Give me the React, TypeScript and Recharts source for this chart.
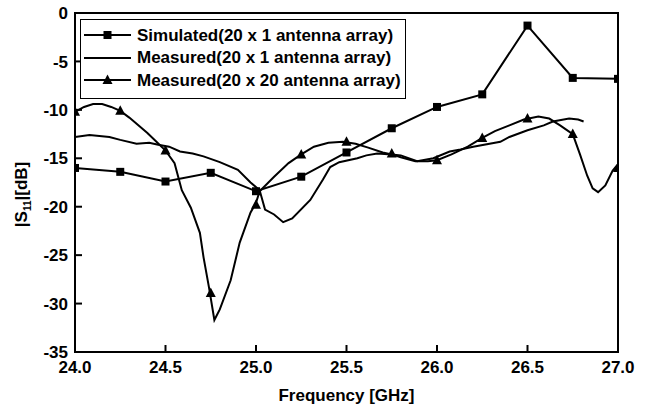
import React from "react"
import {
  LineChart, Line, XAxis, YAxis, Legend, ReferenceArea,
} from "recharts"

// tick labels
const xTicks = [24.0, 24.5, 25.0, 25.5, 26.0, 26.5, 27.0]
const yTicks = [-35, -30, -25, -20, -15, -10, -5, 0]

// simulated 20 x 1 (squares, every 0.25 GHz)
const simFreq = [24.0, 24.25, 24.5, 24.75, 25.0, 25.25, 25.5, 25.75, 26.0, 26.25, 26.5, 26.75, 27.0]
const simS11 = [-16.0, -16.4, -17.4, -16.5, -18.4, -16.9, -14.4, -11.9, -9.7, -8.4, -1.3, -6.7, -6.8]

// measured 20 x 1 (plain line)
const meas1Freq = [
  24.0, 24.08, 24.19, 24.25, 24.34, 24.41, 24.46, 24.52, 24.58, 24.65, 24.71, 24.8, 24.9, 24.97,
  25.02, 25.05, 25.1, 25.15, 25.2, 25.3, 25.37, 25.41, 25.46, 25.56, 25.61, 25.67, 25.75, 25.8,
  25.89, 25.98, 26.07, 26.13, 26.2, 26.35, 26.4, 26.5, 26.59, 26.64, 26.73, 26.78, 26.81,
]
const meas1S11 = [
  -12.8, -12.6, -12.8, -13.1, -13.5, -13.4, -13.6, -13.8, -14.3, -14.5, -14.8, -15.4, -16.2, -17.5,
  -18.3, -20.3, -20.8, -21.6, -21.2, -19.3, -17.2, -15.9, -15.4, -15.0, -14.7, -14.5, -14.6, -14.7,
  -15.3, -15.0, -14.3, -14.1, -13.8, -13.3, -12.8, -12.1, -11.6, -11.2, -10.9, -11.0, -11.2,
]

// measured 20 x 20 (line) and its triangle markers
const meas20Freq = [
  24.0, 24.05, 24.1, 24.15, 24.2, 24.25, 24.3, 24.35, 24.4, 24.45, 24.5, 24.55, 24.59, 24.64,
  24.69, 24.71, 24.74, 24.77, 24.8, 24.86, 24.91, 24.97, 25.0, 25.02, 25.1, 25.18, 25.25, 25.32,
  25.4, 25.48, 25.55, 25.62, 25.7, 25.75, 25.8, 25.88, 25.95, 26.0, 26.08, 26.17, 26.25, 26.32,
  26.4, 26.48, 26.56, 26.62, 26.68, 26.75, 26.79, 26.83, 26.86, 26.89, 26.93, 26.97, 27.0,
]
const meas20S11 = [
  -10.2, -9.7, -9.4, -9.4, -9.7, -10.1, -10.8, -11.6, -12.4, -13.3, -14.2, -15.5, -18.3, -20.1,
  -22.7, -25.2, -28.3, -31.7, -30.6, -27.6, -23.7, -20.6, -19.6, -18.4, -16.9, -15.5, -14.6, -13.8,
  -13.4, -13.3, -13.5, -13.9, -14.4, -14.6, -14.9, -15.3, -15.3, -15.2, -14.6, -13.8, -12.9, -12.2,
  -11.6, -11.0, -10.7, -10.9, -11.6, -12.5, -14.6, -16.8, -18.1, -18.5, -17.8, -16.3, -15.6,
]
const mark20Freq = [24.0, 24.25, 24.5, 24.75, 25.0, 25.25, 25.5, 25.75, 26.0, 26.25, 26.5, 26.75, 27.0]
const mark20S11 = [-10.2, -10.1, -14.2, -28.9, -19.8, -14.6, -13.3, -14.5, -15.2, -12.9, -10.9, -12.5, -16.0]

const legendItems = [
  { label: "Simulated(20 x 1 antenna array)", marker: "square" },
  { label: "Measured(20 x 1 antenna array)", marker: "none" },
  { label: "Measured(20 x 20 antenna array)", marker: "triangle" },
]

const toRows = (fs: number[], vs: number[]) => fs.map((f, i) => ({ f, v: vs[i] }))
const simData = toRows(simFreq, simS11)
const meas1Data = toRows(meas1Freq, meas1S11)
const meas20Data = toRows(meas20Freq, meas20S11)
const mark20Data = toRows(mark20Freq, mark20S11)

const FONT = "'Liberation Sans', Arial, sans-serif"

const Square = (p: any) => {
  if (p.cx == null || p.cy == null) return <g key={p.key} />
  return <rect key={p.key} x={p.cx - 4} y={p.cy - 4} width={8} height={8} fill="#000" />
}

const Triangle = (p: any) => {
  if (p.cx == null || p.cy == null) return <g key={p.key} />
  const { cx, cy } = p
  return <path key={p.key} d={`M${cx},${cy - 5.5}L${cx + 5},${cy + 4}L${cx - 5},${cy + 4}Z`} fill="#000" />
}

const XTick = (p: any) => {
  const { x, y, payload } = p
  const inner = payload.value > 24 && payload.value < 27
  return (
    <g>
      {inner && <line x1={x} x2={x} y1={y} y2={y - 7} stroke="#000" strokeWidth={2} />}
      <text x={x} y={y + 21} textAnchor="middle" fontSize={17} fontWeight="bold" fontFamily={FONT} fill="#000">
        {payload.value.toFixed(1)}
      </text>
    </g>
  )
}

const YTick = (p: any) => {
  const { x, y, payload } = p
  const inner = payload.value > -35 && payload.value < 0
  return (
    <g>
      {inner && <line x1={x} x2={x + 7} y1={y} y2={y} stroke="#000" strokeWidth={2} />}
      <text x={x - 7} y={y} dy="0.36em" textAnchor="end" fontSize={17} fontWeight="bold" fontFamily={FONT} fill="#000">
        {payload.value}
      </text>
    </g>
  )
}

const LegendBox = () => (
  <div style={{
    width: 326, height: 80, boxSizing: "border-box", border: "1.5px solid #000",
    background: "#fff", paddingTop: 4, paddingLeft: 3,
  }}>
    {legendItems.map((it) => (
      <div key={it.label} style={{ display: "flex", alignItems: "center", height: 22.5 }}>
        <svg width={47} height={14} style={{ flex: "none" }}>
          <line x1={0} x2={47} y1={7} y2={7} stroke="#000" strokeWidth={2} />
          {it.marker === "square" && <rect x={19.5} y={3} width={8} height={8} fill="#000" />}
          {it.marker === "triangle" && <path d="M23.5,1.5L28.5,11L18.5,11Z" fill="#000" />}
        </svg>
        <span style={{
          marginLeft: 6, fontFamily: FONT, fontWeight: "bold", fontSize: 17,
          color: "#000", whiteSpace: "nowrap", lineHeight: 1,
        }}>
          {it.label}
        </span>
      </div>
    ))}
  </div>
)

export default function App() {
  return (
    <div style={{ position: "absolute", left: 0, top: 0, background: "#fff" }}>
      <LineChart width={647} height={408} margin={{ top: 13, right: 29, bottom: 0, left: 0 }}>
        <XAxis
          dataKey="f" type="number" domain={[24, 27]} ticks={xTicks} allowDataOverflow
          height={56} tickSize={0} tickMargin={0} axisLine={false} tickLine={false}
          tick={<XTick />} interval={0}
          label={{
            value: "Frequency [GHz]", position: "insideBottom", offset: 7,
            style: { fontFamily: FONT, fontWeight: "bold", fontSize: 17, fill: "#000" },
          }}
        />
        <YAxis
          type="number" domain={[-35, 0]} ticks={yTicks} allowDataOverflow
          width={75} tickSize={0} tickMargin={0} axisLine={false} tickLine={false}
          tick={<YTick />} interval={0}
          label={(props: any) => {
            const vb = props.viewBox
            const cx = 21
            const cy = vb.y + vb.height / 2 + 12
            return (
              <text
                transform={`translate(${cx},${cy}) rotate(-90)`} textAnchor="middle" dy="0.36em"
                fontFamily={FONT} fontWeight="bold" fontSize={17} fill="#000"
              >
                |S<tspan fontSize={10} dy={4}>11</tspan><tspan dy={-4}>|[dB]</tspan>
              </text>
            )
          }}
        />
        <ReferenceArea x1={24} x2={27} y1={-35} y2={0} fill="none" stroke="#000" strokeWidth={2} />
        <Legend
          layout="horizontal" verticalAlign="middle" align="center"
          wrapperStyle={{ left: 80, top: 19, width: "auto", height: "auto" }}
          content={() => <LegendBox />}
        />
        <Line
          data={meas1Data} dataKey="v" type="linear" stroke="#000" strokeWidth={2}
          dot={false} activeDot={false} isAnimationActive={false} legendType="none"
        />
        <Line
          data={meas20Data} dataKey="v" type="linear" stroke="#000" strokeWidth={2}
          dot={false} activeDot={false} isAnimationActive={false} legendType="none"
        />
        <Line
          data={mark20Data} dataKey="v" type="linear" stroke="none"
          dot={Triangle} activeDot={false} isAnimationActive={false} legendType="none"
        />
        <Line
          data={simData} dataKey="v" type="linear" stroke="#000" strokeWidth={2}
          dot={Square} activeDot={false} isAnimationActive={false} legendType="none"
        />
      </LineChart>
    </div>
  )
}
